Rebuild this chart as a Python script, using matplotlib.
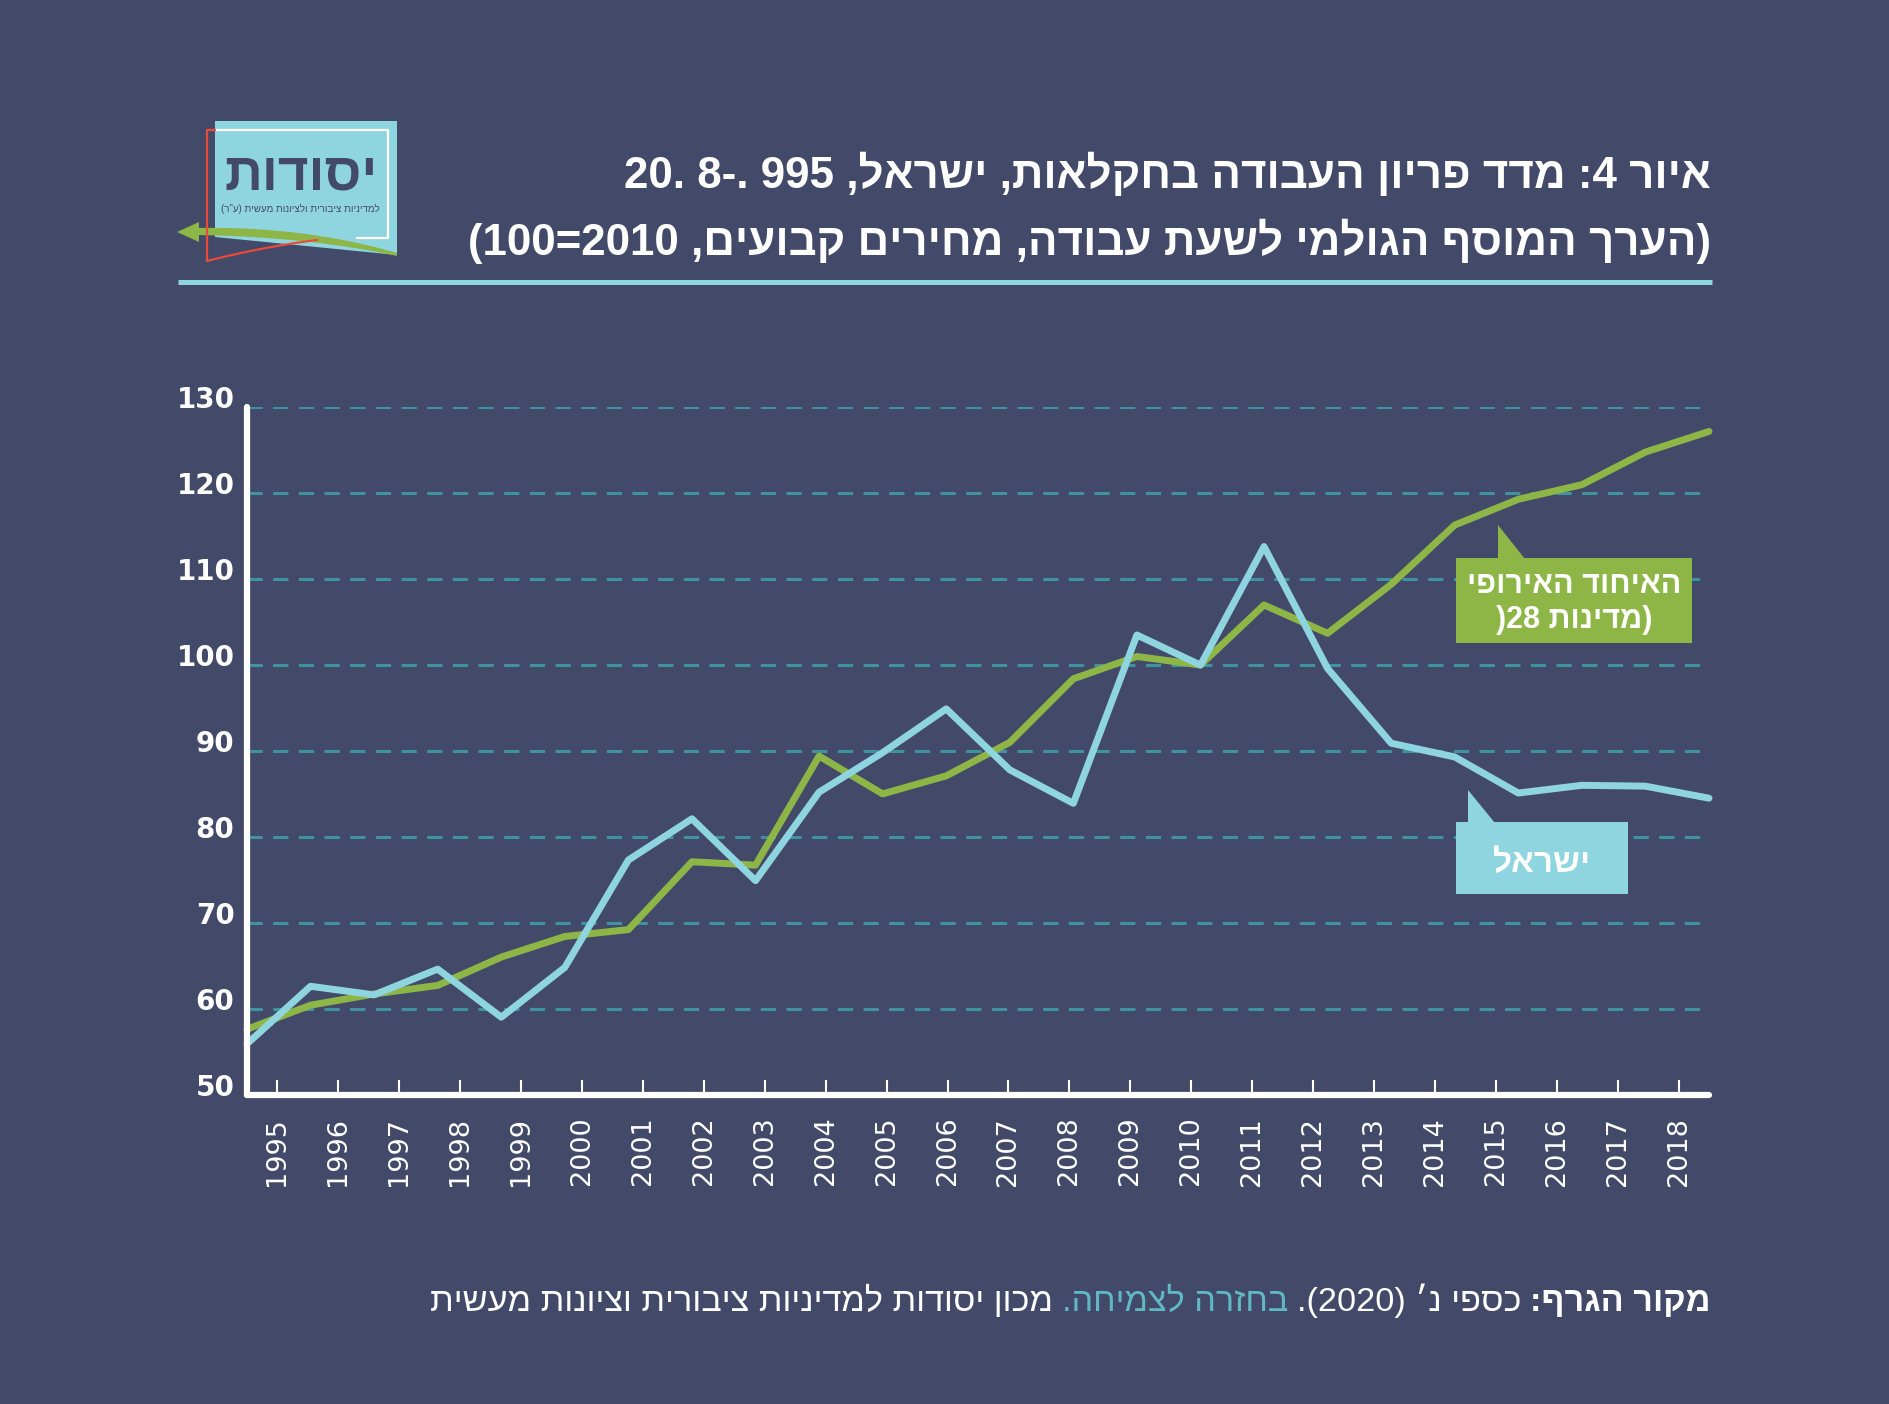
import re
import numpy as np
import matplotlib
matplotlib.use('Agg')
import matplotlib.pyplot as plt
from matplotlib.patches import Polygon
from matplotlib.transforms import ScaledTranslation

# --- data ---
years = list(range(1995, 2019))
eu_values = [57.6, 60.4, 61.7, 62.7, 66.0, 68.4, 69.2, 77.1, 76.7, 89.4, 85.0, 87.1,
             91.0, 98.4, 101.0, 100.0, 107.0, 103.7, 109.4, 116.3, 119.3, 121.0, 124.8, 127.2]
israel_values = [55.9, 62.6, 61.6, 64.6, 59.0, 64.8, 77.3, 82.1, 74.9, 85.2, 89.8, 94.9,
                 87.8, 83.9, 103.5, 100.0, 113.8, 99.6, 90.9, 89.3, 85.1, 86.0, 85.9, 84.5]
y_ticks = [50, 60, 70, 80, 90, 100, 110, 120, 130]

title_1 = "איור 4: מדד פריון העבודה בחקלאות, ישראל, 995 .-8 .20"
title_2 = "(הערך המוסף הגולמי לשעת עבודה, מחירים קבועים, 2010=100)"
eu_label = ["האיחוד האירופי", "(מדינות 28("]
israel_label = "ישראל"
logo_name = "יסודות"
logo_sub = "למדיניות ציבורית ולציונות מעשית (ע\"ר)"
source_parts = [("מקור הגרף:", "white", "bold"),
                ("כספי נ׳ (2020).", "white", "normal"),
                ("בחזרה לצמיחה.", "#5FB8C2", "normal"),
                ("מכון יסודות למדיניות ציבורית וציונות מעשית", "white", "normal")]

bg = '#434968'
green = '#8DB647'
blue = '#8FD5DF'
grid_c = '#3F939E'
red = '#E84B3A'

W, H = 1890, 1404
MIRROR = {'(': ')', ')': '('}


def rtl(s):
    # matplotlib has no bidi: lay Hebrew out in visual order, keep digit runs
    parts = re.findall(r'\d+|.', s)
    return ''.join(MIRROR.get(p, p) for p in reversed(parts))


fig = plt.figure(figsize=(W / 100, H / 100), dpi=100, facecolor=bg)
r = fig.canvas.get_renderer()

# main chart
left, right, bottom, top = 247, 1709, 1094.5, 407.4
ax = fig.add_axes([left / W, 1 - bottom / H, (right - left) / W, (bottom - top) / H], zorder=1)
ax.set_facecolor(bg)
x = np.arange(len(years))
ax.plot(x, eu_values, color=green, lw=5, solid_capstyle='round', solid_joinstyle='round',
        clip_on=False, zorder=3)
ax.plot(x, israel_values, color=blue, lw=5, solid_capstyle='round', solid_joinstyle='round',
        clip_on=False, zorder=4)
ax.set_xlim(0, len(years) - 1)
ax.set_ylim(y_ticks[0], y_ticks[-1])
ax.set_yticks(y_ticks)
ax.set_yticklabels([str(v) for v in y_ticks])
ax.set_xticks([])
ax.tick_params(axis='y', length=0, pad=9, labelsize=20, labelcolor='white')
for lab in ax.get_yticklabels():
    lab.set_fontweight('bold')
    lab.set_transform(lab.get_transform() + ScaledTranslation(0, 0.1, fig.dpi_scale_trans))
ax.yaxis.grid(True, color=grid_c, lw=2.2, linestyle=(0, (5, 3.4)))
ax.set_axisbelow(True)
for s in ['top', 'right']:
    ax.spines[s].set_visible(False)
for s in ['left', 'bottom']:
    ax.spines[s].set_color('white')
    ax.spines[s].set_linewidth(4.5)
    ax.spines[s].set_capstyle('round')
    ax.spines[s].set_zorder(5)

# year axis (labels sit on their own grid, as in the original)
ax2 = ax.twiny()
ax2.set_xlim(years[0] - 0.5, years[-1] + 0.5)
ax2.set_xticks(years)
ax2.set_xticklabels([str(yr) for yr in years], rotation=90)
ax2.xaxis.set_ticks_position('bottom')
ax2.xaxis.set_label_position('bottom')
ax2.tick_params(axis='x', direction='in', length=11, width=1.5, color='white',
                labelcolor='white', labelsize=19.5, pad=16)
for s in ax2.spines.values():
    s.set_visible(False)

# overlay in pixel coordinates for titles, logo, callouts and source
ax0 = fig.add_axes([0, 0, 1, 1], zorder=3)
ax0.set_xlim(0, W)
ax0.set_ylim(H, 0)
ax0.axis('off')
ax0.patch.set_alpha(0)

heb = ['Liberation Sans', 'DejaVu Sans']
t1 = ax0.text(1711, 175, rtl(title_1), ha='right', va='center', color='white',
              fontsize=30, fontweight='bold', family=heb)
t2 = ax0.text(1711, 241, rtl(title_2), ha='right', va='center', color='white',
              fontsize=30, fontweight='bold', family=heb)
fs = 30 * 1241 / t2.get_window_extent(renderer=r).width
t1.set_fontsize(fs)
t2.set_fontsize(fs)
ax0.plot([178, 1712], [282, 282], color=blue, lw=3.6, solid_capstyle='butt')

# logo
ax0.add_patch(Polygon([(215, 121), (397, 121), (397, 255), (215, 237)], closed=True,
                      facecolor=blue, edgecolor='none'))
ax0.plot([215, 388, 388, 357], [130, 130, 238, 238], color='white', lw=1.6)
t = np.linspace(0, 1, 40)
rx = (1 - t) ** 2 * 207 + 2 * (1 - t) * t * 262 + t ** 2 * 317
ry = (1 - t) ** 2 * 261 + 2 * (1 - t) * t * 247 + t ** 2 * 240
ax0.plot(np.r_[215, 207, rx], np.r_[130, 130, ry], color=red, lw=1.6)
tx = (1 - t) ** 2 * 197 + 2 * (1 - t) * t * 303 + t ** 2 * 397
ty = (1 - t) ** 2 * 228 + 2 * (1 - t) * t * 226 + t ** 2 * 253
bx = (1 - t) ** 2 * 197 + 2 * (1 - t) * t * 310 + t ** 2 * 397
by = (1 - t) ** 2 * 235 + 2 * (1 - t) * t * 237 + t ** 2 * 256
ax0.add_patch(Polygon(np.c_[np.r_[tx, bx[::-1]], np.r_[ty, by[::-1]]], closed=True,
                      facecolor=green, edgecolor='none'))
ax0.add_patch(Polygon([(177, 232), (199, 222), (199, 242)], closed=True,
                      facecolor=green, edgecolor='none'))
ax0.text(301, 176, rtl(logo_name), ha='center', va='center', color=bg,
         fontsize=38, fontweight='bold', family=heb)
ax0.text(300, 209, rtl(logo_sub), ha='center', va='center', color=bg,
         fontsize=7, family=heb)

# callouts
ax0.add_patch(Polygon([(1456, 558), (1692, 558), (1692, 643), (1456, 643)], closed=True,
                      facecolor=green, edgecolor='none'))
ax0.add_patch(Polygon([(1498, 559), (1498, 525), (1525, 559)], closed=True,
                      facecolor=green, edgecolor='none'))
ax0.text(1574, 585, rtl(eu_label[0]), ha='center', va='center', color='white',
         fontsize=22, fontweight='bold', family=heb)
ax0.text(1574, 620, rtl(eu_label[1]), ha='center', va='center', color='white',
         fontsize=22, fontweight='bold', family=heb)
ax0.add_patch(Polygon([(1456, 822), (1628, 822), (1628, 894), (1456, 894)], closed=True,
                      facecolor=blue, edgecolor='none'))
ax0.add_patch(Polygon([(1468, 823), (1468, 790), (1495, 823)], closed=True,
                      facecolor=blue, edgecolor='none'))
ax0.text(1542, 864, rtl(israel_label), ha='center', va='center', color='white',
         fontsize=24, fontweight='bold', family=heb)

# source line, pieces placed right to left and fitted to the original width
gap = 9
pieces = [ax0.text(0, 1311, rtl(txt), ha='right', va='baseline', color=col,
                   fontsize=20, fontweight=wt, family=heb) for txt, col, wt in source_parts]
total = sum(p.get_window_extent(renderer=r).width for p in pieces) + gap * (len(pieces) - 1)
for p in pieces:
    p.set_fontsize(20 * (1281 - gap * (len(pieces) - 1)) / (total - gap * (len(pieces) - 1)))
xpos = 1711
for p in pieces:
    p.set_x(xpos)
    xpos -= p.get_window_extent(renderer=r).width + gap

fig.savefig('out.png', dpi=100, facecolor=bg)
